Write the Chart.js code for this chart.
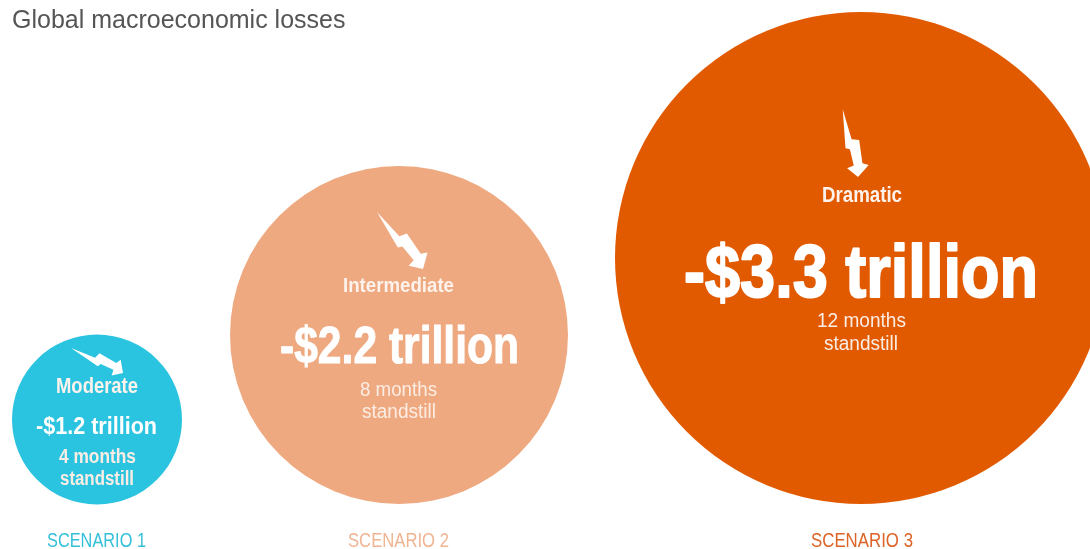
<!DOCTYPE html>
<html>
<head>
<meta charset="utf-8">
<style>html,body{margin:0;padding:0;background:#fff}canvas{display:block}</style>
<script src="https://cdn.jsdelivr.net/npm/chart.js@4"></script>
</head>
<body>
<canvas id="c" width="1090" height="549"></canvas>
<script>
const chartTitle = 'Global macroeconomic losses';
const scenarios = ['SCENARIO 1', 'SCENARIO 2', 'SCENARIO 3'];
const severities = ['Moderate', 'Intermediate', 'Dramatic'];
const lossTrillions = [1.2, 2.2, 3.3];
const standstillMonths = [4, 8, 12];
const bubbleX = [97, 399, 861];
const bubbleY = [419.5, 335, 258];
const bubbleR = [85, 169, 246];
const bubbleColors = ['#2AC3E0', '#EFA980', '#E25A00'];
const scenarioColors = ['#35C0DA', '#EFB592', '#DD6326'];

// Text placement: [centre x, baseline y, font px, fitted width]
const FONT = '"Liberation Sans Narrow","Liberation Sans",Arial,sans-serif';
const severityPos = [[97, 393, 22, 82], [398.5, 292, 21, 111], [862, 202, 22, 80]];
const lossPos = [[96.5, 434, 23, 121], [399.5, 363, 51, 239], [861, 297, 75, 354]];
const lossStroke = [0, 1, 2];
const monthsPos = [[97.5, 463, 20, 77], [398.5, 396, 20, 77], [861.5, 327, 20, 89]];
const stillPos = [[97, 485, 20, 74], [399, 418, 20, 74], [861, 350, 20, 74]];
const scenarioPos = [[96.5, 547, 21, 99], [398.5, 547, 21, 101], [862, 547, 21, 102]];
const boltTips = [[71, 348], [377, 212], [842.7, 109.3]];
const boltEnds = [[123, 373], [423, 269], [858, 177]];
const boltShape = [[0,0],[.03,.449],[.134,.484],[.106,.82],[.189,.865],[0,1],[-.125,.842],[-.023,.826],[-.026,.584],[-.084,.556]];

function put(ctx, text, p, color, weight, stroke) {
  ctx.font = weight + ' ' + p[2] + 'px ' + FONT;
  ctx.fillStyle = color;
  ctx.textAlign = 'center';
  ctx.textBaseline = 'alphabetic';
  ctx.fillText(text, p[0], p[1], p[3]);
  if (stroke) {
    ctx.strokeStyle = color;
    ctx.lineWidth = stroke;
    ctx.lineJoin = 'round';
    ctx.strokeText(text, p[0], p[1], p[3]);
  }
}

const annotate = {
  id: 'annotate',
  afterDatasetsDraw(chart) {
    const ctx = chart.ctx;
    ctx.save();
    boltTips.forEach((t, i) => {
      const e = boltEnds[i], dx = e[0] - t[0], dy = e[1] - t[1];
      ctx.beginPath();
      boltShape.forEach(([u, v], k) => {
        const x = t[0] + v * dx + u * dy, y = t[1] + v * dy - u * dx;
        k ? ctx.lineTo(x, y) : ctx.moveTo(x, y);
      });
      ctx.closePath();
      ctx.fillStyle = '#fff';
      ctx.fill();
    });
    scenarios.forEach((s, i) => {
      put(ctx, severities[i], severityPos[i], '#FDF3EC', 'bold');
      put(ctx, '-$' + lossTrillions[i].toFixed(1) + ' trillion', lossPos[i], '#fff', 'bold', lossStroke[i]);
      put(ctx, standstillMonths[i] + ' months', monthsPos[i], '#FBEDE4', i === 0 ? 'bold' : 'normal');
      put(ctx, 'standstill', stillPos[i], '#FBEDE4', i === 0 ? 'bold' : 'normal');
      put(ctx, s, scenarioPos[i], scenarioColors[i], 'normal');
    });
    ctx.font = '25px "Liberation Sans",Arial,sans-serif';
    ctx.fillStyle = '#555';
    ctx.textAlign = 'left';
    ctx.fillText(chartTitle, 12, 28, 335);
    ctx.restore();
  }
};

new Chart(document.getElementById('c'), {
  type: 'bubble',
  data: {
    labels: scenarios,
    datasets: [{
      label: 'Global macroeconomic losses',
      data: bubbleX.map((x, i) => ({ x, y: bubbleY[i], r: bubbleR[i] })),
      backgroundColor: bubbleColors,
      borderWidth: 0,
      clip: false
    }]
  },
  options: {
    responsive: false,
    animation: false,
    layout: { padding: 0, autoPadding: false },
    plugins: { legend: { display: false }, tooltip: { enabled: false }, title: { display: false } },
    scales: {
      x: { type: 'linear', min: 0, max: 1090, display: false },
      y: { type: 'linear', min: 0, max: 549, reverse: true, display: false }
    }
  },
  plugins: [annotate]
});
</script>
</body>
</html>
